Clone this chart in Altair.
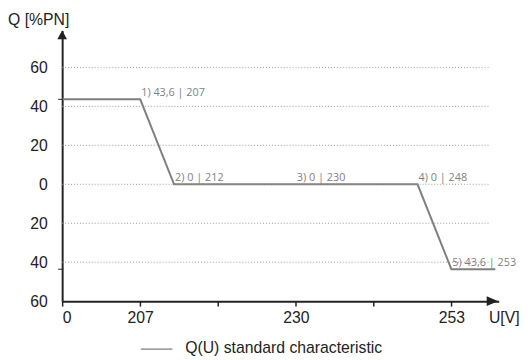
import altair as alt
import pandas as pd

# ---- data ----
u_vals = [0, 207, 212, 248, 253, 259.5]
q_vals = [43.6, 43.6, 0, 0, -43.6, -43.6]
pt_labels = ["1) 43,6 | 207", "2) 0 | 212", "3) 0 | 230", "4) 0 | 248", "5) 43,6 | 253"]
pt_u = [207, 212, 230, 248, 253]
pt_q = [43.6, 0, 0, 0, -43.6]
grid_q = [60, 40, 20, 0, -20, -40]
y_ticks = [60, 40, 20, 0, -20, -40, -60]
x_ticks = [0, 207, 218.5, 230, 241.5, 253]
q_marks = [43.6, -43.6]
grid_start, grid_end = 0, 258.6
y_title = "Q [%PN]"
x_title = "U[V]"
legend_text = "Q(U) standard characteristic"

W, H = 443, 275
FONT = "Liberation Sans, Arial, sans-serif"
LFONT = "Open Sans, sans-serif"
DARK = "#222222"
GRAY = "#7f7f7f"

xs = alt.Scale(domain=[0, 207, 260], range=[0, 79.3, 443.4], nice=False, zero=False)
ys = alt.Scale(domain=[-60, 79], nice=False, zero=False)

line_df = pd.DataFrame({"U": u_vals, "Q": q_vals})
lab_df = pd.DataFrame({"U": pt_u, "Q": pt_q, "t": pt_labels})
grid_df = pd.DataFrame({"Q": grid_q, "U": [grid_start] * len(grid_q), "U2": [grid_end] * len(grid_q)})
mark_df = pd.DataFrame({"Q": q_marks})
one = pd.DataFrame({"a": [1]})

x_axis = alt.Axis(
    values=x_ticks,
    labelExpr="indexof([218.5, 241.5], datum.value) >= 0 ? '' : datum.label",
    title=None, grid=False, domainColor=DARK, domainWidth=2,
    tickColor=DARK, tickWidth=1.5, tickSize=5,
    labelFont=FONT, labelFontSize=16, labelColor=DARK, labelPadding=4,
)
y_axis = alt.Axis(
    values=y_ticks, labelExpr="format(abs(datum.value), 'd')",
    title=None, grid=False, ticks=False, tickSize=0, domainColor=DARK, domainWidth=2,
    labelFont=FONT, labelFontSize=16, labelColor=DARK, labelPadding=15,
)

X = alt.X("U:Q", scale=xs, axis=x_axis)
Y = alt.Y("Q:Q", scale=ys, axis=y_axis)

line = alt.Chart(line_df).mark_line(color=GRAY, strokeWidth=2).encode(x=X, y=Y)

grid = alt.Chart(grid_df).mark_rule(color="#9a9a9a", strokeDash=[1, 2], strokeWidth=1).encode(
    x=X, x2="U2:Q", y=Y
)

ticks = alt.Chart(mark_df).mark_rule(color=DARK, strokeWidth=1).encode(
    x=alt.value(-4), x2=alt.value(1), y=Y
)

labels = alt.Chart(lab_df).mark_text(
    align="left", baseline="alphabetic", dx=1, dy=-3, font=LFONT, fontSize=11, color=GRAY
).encode(x=X, y=Y, text="t:N")

up_arrow = alt.Chart(one).mark_point(
    shape="M0,-1L1.1,1L-1.1,1Z", filled=True, size=81, color=DARK, opacity=1, strokeWidth=0
).encode(x=alt.value(0), y=alt.value(4.5))

right_arrow = alt.Chart(one).mark_point(
    shape="M1,0L-1,-0.85L-1,0.85Z", filled=True, size=137, color=DARK, opacity=1, strokeWidth=0
).encode(x=alt.value(437), y=alt.value(275))

ytitle = alt.Chart(pd.DataFrame({"t": [y_title]})).mark_text(
    align="left", baseline="middle", font=FONT, fontSize=16, color=DARK
).encode(x=alt.value(-55), y=alt.value(-10), text="t:N")

xtitle = alt.Chart(pd.DataFrame({"t": [x_title]})).mark_text(
    align="center", baseline="middle", font=FONT, fontSize=16, color=DARK
).encode(x=alt.value(449), y=alt.value(292), text="t:N")

leg_line = alt.Chart(one).mark_rule(color=GRAY, strokeWidth=1.5).encode(
    x=alt.value(80), x2=alt.value(112), y=alt.value(323.7)
)
leg_text = alt.Chart(pd.DataFrame({"t": [legend_text]})).mark_text(
    align="left", baseline="middle", font=FONT, fontSize=16, color=DARK
).encode(x=alt.value(125), y=alt.value(323), text="t:N")

chart = alt.layer(
    line, grid, ticks, labels, up_arrow, right_arrow, ytitle, xtitle, leg_line, leg_text
).properties(
    width=W, height=H,
    autosize=alt.AutoSizeParams(type="none"),
    padding={"left": 55, "top": 20, "right": 22, "bottom": 57},
).configure_view(stroke=None)

chart.save("out.html", embed_options={"renderer": "svg", "actions": False})
